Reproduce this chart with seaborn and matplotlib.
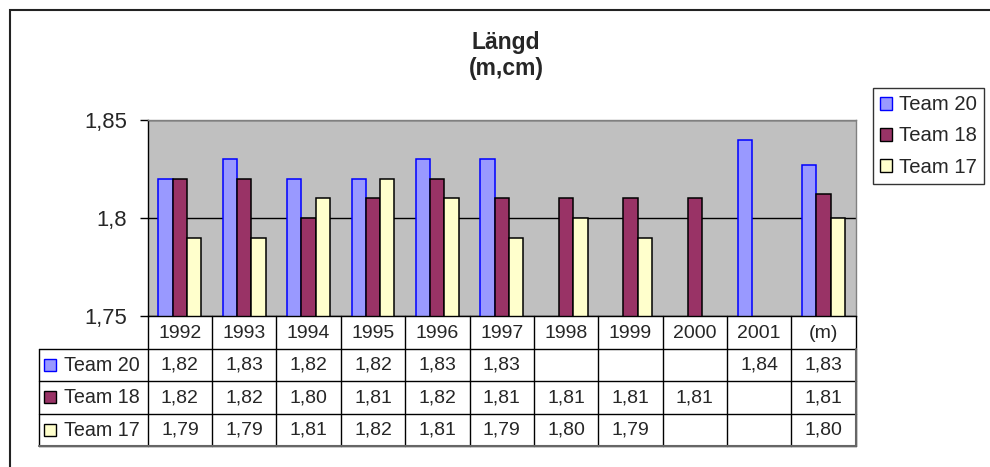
import numpy as np
import pandas as pd
import matplotlib
matplotlib.use("Agg")
import matplotlib.pyplot as plt
import seaborn as sns
from matplotlib.ticker import FuncFormatter, FixedLocator
from matplotlib.patches import Patch

# --- data -------------------------------------------------------------
years = ["1992", "1993", "1994", "1995", "1996", "1997",
         "1998", "1999", "2000", "2001", "(m)"]
teams = ["Team 20", "Team 18", "Team 17"]
team20 = [1.82, 1.83, 1.82, 1.82, 1.83, 1.83, np.nan, np.nan, np.nan, 1.84, 1.827]
team18 = [1.82, 1.82, 1.80, 1.81, 1.82, 1.81, 1.81, 1.81, 1.81, np.nan, 1.812]
team17 = [1.79, 1.79, 1.81, 1.82, 1.81, 1.79, 1.80, 1.79, np.nan, np.nan, 1.80]
y_ticks = [1.75, 1.80, 1.85]

fills = {"Team 20": "#9999FF", "Team 18": "#993366", "Team 17": "#FFFFCC"}
edges = {"Team 20": "#0000FF", "Team 18": "#000000", "Team 17": "#000000"}

series = {"Team 20": team20, "Team 18": team18, "Team 17": team17}
df = pd.DataFrame(
    [(y, t, v) for t in teams for y, v in zip(years, series[t])],
    columns=["År", "Lag", "Längd"],
).dropna()

# --- style ------------------------------------------------------------
sns.set_theme(style="white")
plt.rcParams["font.family"] = ["Liberation Sans", "DejaVu Sans"]

W, H = 990, 467
fig = plt.figure(figsize=(W / 100, H / 100), dpi=100)
fig.patch.set_facecolor("white")


def box(x0, y0, x1, y1):
    """Pixel box (top-left origin) to figure fraction rect."""
    return [x0 / W, 1 - y1 / H, (x1 - x0) / W, (y1 - y0) / H]


# outer chart frame
frame = fig.add_axes([0, 0, 1, 1], zorder=-5)
frame.set_xlim(0, W)
frame.set_ylim(H, 0)
frame.axis("off")
frame.plot([10, 10, W + 5], [H + 5, 10, 10], color="#222222", lw=1.5,
           solid_joinstyle="miter")

# --- bar chart --------------------------------------------------------
ax = fig.add_axes(box(147.7, 120, 855.7, 316))
ax.set_facecolor("#C0C0C0")
sns.barplot(data=df, x="År", y="Längd", hue="Lag", order=years,
            hue_order=teams, palette=fills, width=2 / 3, ax=ax,
            legend=False, saturation=1)
for cont, t in zip(ax.containers, teams):
    for bar in cont:
        bar.set_edgecolor(edges[t])
        bar.set_linewidth(1.1)

ax.set_xlim(-0.5, len(years) - 0.5)
ax.set_ylim(y_ticks[0], y_ticks[-1])
ax.yaxis.set_major_locator(FixedLocator(y_ticks))
ax.yaxis.set_major_formatter(FuncFormatter(lambda v, p: f"{v:g}".replace(".", ",")))
ax.tick_params(axis="y", direction="out", length=6, width=1, color="black",
               labelsize=15.8, pad=9, left=True)
ax.tick_params(axis="x", bottom=False, labelbottom=False)
ax.set_xlabel("")
ax.set_ylabel("")
ax.set_axisbelow(True)
ax.yaxis.grid(True, color="black", lw=1)
ax.xaxis.grid(False)
for side in ("left", "bottom"):
    ax.spines[side].set_color("black")
    ax.spines[side].set_linewidth(1)
for side in ("top", "right"):
    ax.spines[side].set_color("#808080")
    ax.spines[side].set_linewidth(1)

# --- title ------------------------------------------------------------
fig.text(506 / W, 1 - 42 / H, "Längd", ha="center", va="center",
         fontsize=16.5, fontweight="bold")
fig.text(506 / W, 1 - 68.5 / H, "(m,cm)", ha="center", va="center",
         fontsize=16.5, fontweight="bold")

# --- legend -----------------------------------------------------------
handles = [Patch(facecolor=fills[t], edgecolor=edges[t], lw=1) for t in teams]
leg = fig.legend(handles, teams, loc="upper left",
                 bbox_to_anchor=(872.7 / W, 1 - 88 / H),
                 fontsize=14.6, frameon=True, fancybox=False, shadow=False,
                 handlelength=0.6, handleheight=0.6, handletextpad=0.35,
                 labelspacing=0.6, borderpad=0.36, borderaxespad=0)
leg.get_frame().set_edgecolor("black")
leg.get_frame().set_linewidth(1)

# --- data table -------------------------------------------------------
px_x = 708.0 / len(years)          # pixels per category column
label_left = -0.5 - (147.7 - 39) / px_x
tab = fig.add_axes(box(39, 316, 855.7, 446))
tab.set_xlim(label_left, len(years) - 0.5)
tab.set_ylim(len(teams) + 1, 0)
tab.axis("off")

n = len(years)
lc = "black"
# horizontal rules between the rows
for r in range(1, len(teams) + 2):
    tab.plot([label_left, n - 0.5], [r, r], color=lc, lw=1, clip_on=False)
# vertical rules between the columns
for k in range(n + 1):
    tab.plot([k - 0.5, k - 0.5], [0, len(teams) + 1], color=lc, lw=1,
             clip_on=False)
tab.plot([label_left, label_left], [1, len(teams) + 1], color=lc, lw=1,
         clip_on=False)
tab.plot([n - 0.5, n - 0.5], [1, len(teams) + 1], color="#666666", lw=1.5,
         clip_on=False)
tab.plot([label_left, n - 0.5], [len(teams) + 1] * 2, color="#666666", lw=1.5,
         clip_on=False)

for i, y in enumerate(years):
    tab.text(i, 0.54, y, ha="center", va="center", fontsize=14)

key_x = label_left + (50 - 39) / px_x
text_x = label_left + (64 - 39) / px_x
for r, t in enumerate(teams, start=1):
    tab.plot([key_x], [r + 0.5], marker="s", markersize=8.4,
             markerfacecolor=fills[t], markeredgecolor=edges[t],
             markeredgewidth=1, clip_on=False)
    tab.text(text_x, r + 0.52, t, ha="left", va="center", fontsize=14.2)
    for i, v in enumerate(series[t]):
        if not np.isnan(v):
            tab.text(i, r + 0.52, f"{v:.2f}".replace(".", ","),
                     ha="center", va="center", fontsize=14)

fig.savefig("out.png", dpi=100, facecolor="white")
